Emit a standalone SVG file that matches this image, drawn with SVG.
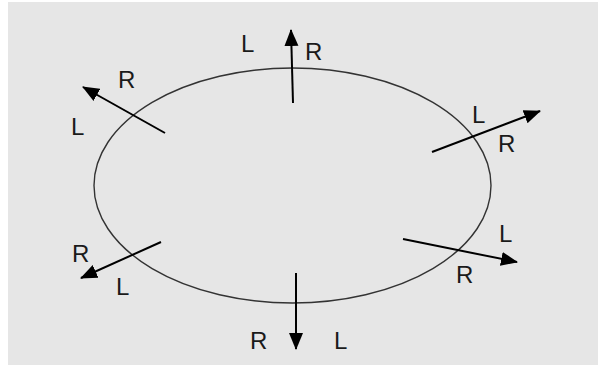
<svg xmlns="http://www.w3.org/2000/svg" width="598" height="367" viewBox="0 0 598 367">
<style>
.arr{stroke:#000;stroke-width:2;fill:none;marker-end:url(#ah)}
.lbl{font-family:"Liberation Sans",Arial,sans-serif;font-size:24px;fill:#1a1a1a}
</style>
<defs>
<marker id="ah" markerUnits="userSpaceOnUse" markerWidth="18" markerHeight="16" refX="16" refY="8" orient="auto">
<path d="M0,1 L17,8 L0,15 Z" fill="#000"/>
</marker>
</defs>
<rect x="0" y="0" width="598" height="367" fill="#fff"/>
<rect x="8" y="2" width="590" height="363" fill="#e6e6e6"/>
<g id="circle"><ellipse cx="292.5" cy="185.5" rx="198.5" ry="117.5" fill="none" stroke="#333" stroke-width="1.4"/></g>
<g id="connectors">
<line class="arr" x1="293" y1="103" x2="291" y2="30"/>
<line class="arr" x1="165" y1="133" x2="83" y2="87"/>
<line class="arr" x1="432" y1="152" x2="540" y2="111"/>
<line class="arr" x1="403" y1="239" x2="517" y2="262"/>
<line class="arr" x1="296" y1="273" x2="296" y2="349"/>
<line class="arr" x1="161" y1="242" x2="81" y2="278"/>
</g>
<g id="labels-top"><text class="lbl" x="241" y="52">L</text><text class="lbl" x="305" y="60">R</text></g>
<g id="labels-topleft"><text class="lbl" x="118" y="88">R</text><text class="lbl" x="71" y="135">L</text></g>
<g id="labels-rightup"><text class="lbl" x="472" y="123">L</text><text class="lbl" x="498" y="152">R</text></g>
<g id="labels-rightlow"><text class="lbl" x="499" y="242">L</text><text class="lbl" x="456" y="283">R</text></g>
<g id="labels-bottom"><text class="lbl" x="250" y="349">R</text><text class="lbl" x="334" y="349">L</text></g>
<g id="labels-leftlow"><text class="lbl" x="72" y="262">R</text><text class="lbl" x="116" y="295">L</text></g>
</svg>
